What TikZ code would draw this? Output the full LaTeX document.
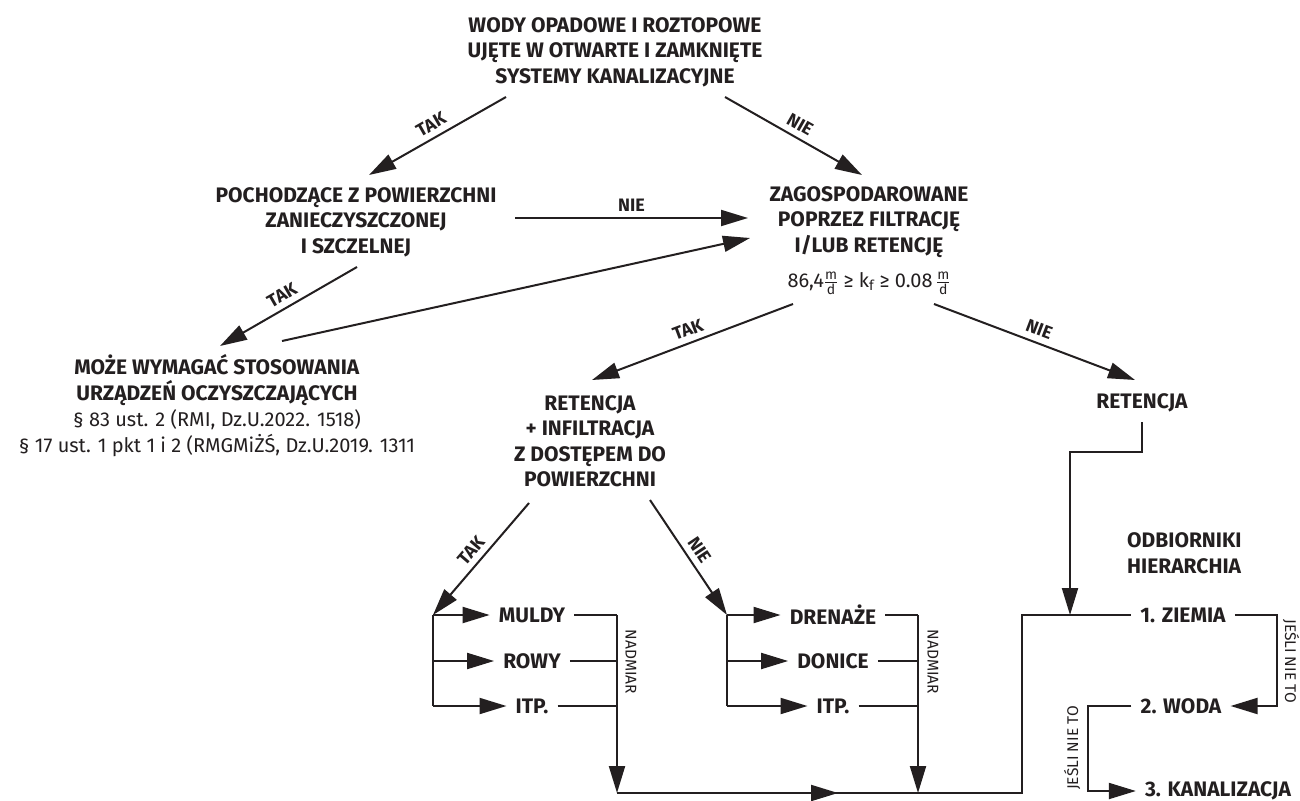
\documentclass[tikz,border=0pt]{standalone}
\usepackage{fontspec}
\setmainfont{Fira Sans}
\usetikzlibrary{arrows.meta}
\definecolor{ink}{HTML}{231F20}
\tikzset{
  every node/.style={text=ink, inner sep=0pt},
  bt/.style={font=\bfseries\fontsize{21}{25.5}\selectfont, align=center},
  rt/.style={font=\fontsize{20}{26}\selectfont, align=center},
  lbl/.style={font=\bfseries\fontsize{18}{18}\selectfont, sloped, above=6pt},
  item/.style={font=\bfseries\fontsize{21}{22}\selectfont, inner xsep=9pt},
  small/.style={font=\fontsize{15.5}{16}\selectfont},
  ln/.style={line width=2pt, draw=ink},
  arr/.style={ln, -{Triangle[length=27pt,width=16pt]}},
}
\begin{document}
\begin{tikzpicture}[x=1pt, y=-1pt]
\useasboundingbox[fill=white] (0,0) rectangle (1300,800);

% main nodes
\node[bt] (wody) at (615,52) {WODY OPADOWE I ROZTOPOWE\\UJĘTE W OTWARTE I ZAMKNIĘTE\\SYSTEMY KANALIZACYJNE};
\node[bt] (poch) at (356,222) {POCHODZĄCE Z POWIERZCHNI\\ZANIECZYSZCZONEJ\\I SZCZELNEJ};
\node[bt] (zag) at (869,222) {ZAGOSPODAROWANE\\POPRZEZ FILTRACJĘ\\I/LUB RETENCJĘ};
\node[rt] (kf) at (869,283) {86,4$\frac{\mathrm{m}}{\mathrm{d}}$ ≥ k\textsubscript{f} ≥ 0.08$\,\frac{\mathrm{m}}{\mathrm{d}}$};
\node[rt] (moze) at (217,406) {\textbf{\fontsize{21}{26}\selectfont MOŻE WYMAGAĆ STOSOWANIA}\\\textbf{\fontsize{21}{26}\selectfont URZĄDZEŃ OCZYSZCZAJĄCYCH}\\§ 83 ust. 2 (RMI, Dz.U.2022. 1518)\\§ 17 ust. 1 pkt 1 i 2 (RMGMiŻŚ, Dz.U.2019. 1311};
\node[bt] (ret) at (590,441) {RETENCJA\\+ INFILTRACJA\\Z DOSTĘPEM DO\\POWIERZCHNI};
\node[bt] (retR) at (1142,403) {RETENCJA};
\node[bt, align=left, anchor=west] (odb) at (1127,553) {ODBIORNIKI\\HIERARCHIA};

\node[item] (muldy) at (532,615) {MULDY};
\node[item] (rowy) at (532,661) {ROWY};
\node[item] (itpa) at (532,706) {ITP.};
\node[item] (dren) at (833,615) {DRENAŻE};
\node[item] (doni) at (833,661) {DONICE};
\node[item] (itpb) at (833,706) {ITP.};

\node[item] (z1) at (1183,615) {1. ZIEMIA};
\node[item] (w2) at (1181,706) {2. WODA};
\node[item] (k3) at (1218,791) {3. KANALIZACJA};

\node[small, rotate=-90] (nad1) at (631,662) {NADMIAR};
\node[small, rotate=-90] (nad2) at (933,662) {NADMIAR};
\node[small, rotate=-90] (jes1) at (1291,661) {JEŚLI NIE TO};
\node[small, rotate=90] (jes2) at (1072,748) {JEŚLI NIE TO};

% junction coordinates
\coordinate (b1) at (433,615);
\coordinate (b1e) at (433,706);
\coordinate (b2) at (727,615);
\coordinate (b2e) at (727,706);
\coordinate (m1) at (617,615);
\coordinate (m2) at (617,793);
\coordinate (n1) at (918,615);
\coordinate (n2) at (918,793);
\coordinate (mid) at (838,793);
\coordinate (q1) at (1022,793);
\coordinate (q2) at (1022,615);
\coordinate (r1) at (1142,452);
\coordinate (r2) at (1070,452);
\coordinate (r3) at (1070,615);
\coordinate (s1) at (1277,615);
\coordinate (s2) at (1277,706);
\coordinate (t1) at (1088,706);
\coordinate (t2) at (1088,791);

% top level
\draw[arr] ([shift={(-109,45)}]wody.center) -- node[lbl] (l1) {TAK} ([shift={(13,-47)}]poch.center);
\draw[arr] ([shift={(110,45)}]wody.center) -- node[lbl] (l2) {NIE} ([shift={(-7,-47)}]zag.center);
\draw[arr] ([shift={(159,-4)}]poch.center) -- node[lbl] (l3) {NIE} ([shift={(-121,-4)}]zag.center);
\draw[arr] ([shift={(1,45)}]poch.center) -- node[lbl] (l4) {TAK} ([shift={(3,-60)}]moze.center);
\draw[arr] ([shift={(65,-65)}]moze.center) -- ([shift={(-119,16)}]zag.center);
\draw[arr] ([shift={(-76,21)}]kf.center) -- node[lbl] (l5) {TAK} ([shift={(2,-61)}]ret.center);
\draw[arr] ([shift={(65,21)}]kf.center) -- node[lbl] (l6) {NIE} ([shift={(-7,-23)}]retR.center);

% retencja + infiltracja branches
\draw[arr] ([shift={(-61,62)}]ret.center) -- node[lbl] (l7) {TAK} (b1);
\draw[arr] ([shift={(60,59)}]ret.center) -- node[lbl] (l8) {NIE} (b2);

\draw[ln] (b1) -- (b1e);
\draw[arr] (b1) -- (muldy.west);
\draw[arr] (b1 |- rowy.west) -- (rowy.west);
\draw[arr] (b1e) -- (itpa.west);
\draw[ln] (muldy.east) -- (m1);
\draw[ln] (rowy.east) -- (rowy.east -| m1);
\draw[ln] (itpa.east) -- (itpa.east -| m1);
\draw[arr] (m1) -- (m2);

\draw[ln] (b2) -- (b2e);
\draw[arr] (b2) -- (dren.west);
\draw[arr] (b2 |- doni.west) -- (doni.west);
\draw[arr] (b2e) -- (itpb.west);
\draw[ln] (dren.east) -- (n1);
\draw[ln] (doni.east) -- (doni.east -| n1);
\draw[ln] (itpb.east) -- (itpb.east -| n1);
\draw[arr] (n1) -- (n2);

% bottom collector
\draw[ln] (m2) -- (q1) -- (q2) -- (z1.west);
\draw[arr] (m2) -- (mid);

% retencja right
\draw[arr] ([shift={(0,19)}]retR.center) -- (r1) -- (r2) -- (r3);

% hierarchy
\draw[arr] (z1.east) -- (s1) -- (s2) -- (w2.east);
\draw[arr] (w2.west) -- (t1) -- (t2) -- (k3.west);
\end{tikzpicture}
\end{document}
